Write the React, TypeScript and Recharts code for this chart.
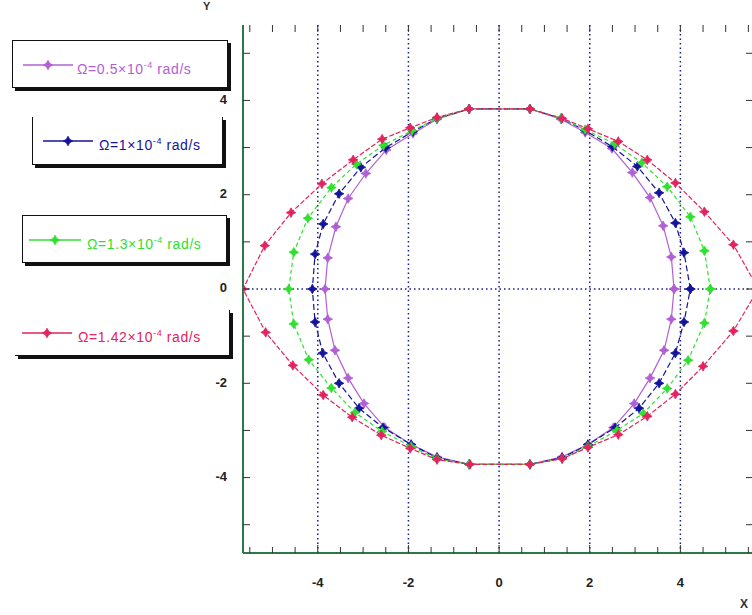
import React from "react";
import { ComposedChart, Scatter, XAxis, YAxis, ReferenceLine } from "recharts";

// plot frame (pixels) – used only for drawing ticks
const PLOT_LEFT = 243;
const PLOT_TOP = 25;
const PLOT_BOTTOM = 553;
const PLOT_RIGHT = 752;

const xTicks = [-5.5, -5, -4.5, -4, -3.5, -3, -2.5, -2, -1.5, -1, -0.5, 0, 0.5, 1, 1.5, 2, 2.5, 3, 3.5, 4, 4.5, 5, 5.5];
const xLabels = [-4, -2, 0, 2, 4];
const yTicks = [-5, -4, -3, -2, -1, 0, 1, 2, 3, 4, 5];
const yLabels = [-4, -2, 0, 2, 4];
const gridX = [-4, -2, 0, 2, 4];

// Ω = 0.5e-4 (purple)
const purplePts: [number, number][] = [
  [3.86, 0], [3.8, 0.68], [3.62, 1.34], [3.33, 1.94], [2.94, 2.47], [2.49, 2.98], [1.9, 3.32], [1.37, 3.6],
  [0.68, 3.82], [-0.66, 3.82], [-1.37, 3.6], [-1.9, 3.3], [-2.49, 2.95], [-2.94, 2.45], [-3.33, 1.92],
  [-3.6, 1.32], [-3.78, 0.66], [-3.84, 0], [-3.78, -0.64], [-3.62, -1.3], [-3.33, -1.89], [-2.98, -2.43],
  [-2.52, -2.94], [-1.94, -3.3], [-1.37, -3.56], [-0.66, -3.72], [0.68, -3.72], [1.39, -3.56], [1.96, -3.3],
  [2.52, -2.94], [2.98, -2.43], [3.33, -1.89], [3.64, -1.3], [3.8, -0.64], [3.86, 0],
];

// Ω = 1e-4 (blue)
const bluePts: [number, number][] = [
  [4.22, 0], [4.08, 0.77], [3.89, 1.4], [3.53, 2.04], [3.05, 2.6], [2.5, 3.02], [1.9, 3.36], [1.37, 3.62],
  [0.68, 3.82], [-0.66, 3.82], [-1.37, 3.62], [-1.9, 3.34], [-2.5, 3.0], [-3.05, 2.58], [-3.53, 2.02],
  [-3.88, 1.38], [-4.06, 0.74], [-4.12, 0], [-4.06, -0.7], [-3.89, -1.36], [-3.53, -2.0], [-3.09, -2.53],
  [-2.56, -2.94], [-1.94, -3.3], [-1.37, -3.58], [-0.66, -3.72], [0.68, -3.72], [1.39, -3.58], [1.96, -3.3],
  [2.56, -2.94], [3.09, -2.53], [3.53, -2.0], [3.89, -1.36], [4.08, -0.7], [4.22, 0],
];

// Ω = 1.3e-4 (green)
const greenPts: [number, number][] = [
  [4.66, 0], [4.53, 0.81], [4.22, 1.53], [3.71, 2.17], [3.15, 2.68], [2.55, 3.08], [1.9, 3.38], [1.37, 3.62],
  [0.68, 3.82], [-0.66, 3.82], [-1.37, 3.62], [-1.92, 3.36], [-2.55, 3.05], [-3.15, 2.65], [-3.7, 2.15],
  [-4.22, 1.5], [-4.53, 0.78], [-4.64, 0], [-4.53, -0.74], [-4.2, -1.5], [-3.7, -2.1], [-3.18, -2.62],
  [-2.58, -3.02], [-1.94, -3.34], [-1.37, -3.6], [-0.66, -3.72], [0.68, -3.72], [1.39, -3.6], [1.96, -3.34],
  [2.6, -3.0], [3.18, -2.64], [3.71, -2.11], [4.17, -1.51], [4.53, -0.72], [4.66, 0],
];

// Ω = 1.42e-4 (red)
const redPts: [number, number][] = [
  [5.72, 0], [5.17, 0.94], [4.53, 1.64], [3.89, 2.25], [3.27, 2.74], [2.63, 3.13], [1.96, 3.4], [1.39, 3.62],
  [0.68, 3.82], [-0.66, 3.82], [-1.37, 3.64], [-1.96, 3.42], [-2.58, 3.18], [-3.22, 2.74], [-3.91, 2.23],
  [-4.59, 1.62], [-5.17, 0.92], [-5.65, 0], [-5.15, -0.92], [-4.55, -1.62], [-3.88, -2.25], [-3.24, -2.72],
  [-2.6, -3.1], [-1.96, -3.38], [-1.37, -3.62], [-0.64, -3.72], [0.68, -3.72], [1.39, -3.6], [1.96, -3.36],
  [2.63, -3.09], [3.27, -2.7], [3.89, -2.23], [4.5, -1.64], [5.17, -0.89], [5.72, 0],
];

const toRows = (pts: [number, number][]) => pts.map(([x, y]) => ({ x, y }));

const series = [
  { key: "purple", label: "Ω=0.5×10", sup: "-4", color: "#b160d4", dash: undefined as string | undefined, pts: purplePts },
  { key: "blue", label: "Ω=1×10", sup: "-4", color: "#14149a", dash: "6 3", pts: bluePts },
  { key: "green", label: "Ω=1.3×10", sup: "-4", color: "#2fe02f", dash: "4 3", pts: greenPts },
  { key: "red", label: "Ω=1.42×10", sup: "-4", color: "#e2235e", dash: "5 2", pts: redPts },
];

// legend boxes, as laid out in the original figure
const legendBoxes = [
  { left: 12, top: 40, width: 216, height: 48, lineFrom: 22, lineTo: 72, textX: 76, borders: "all" },
  { left: 32, top: 117, width: 191, height: 48, lineFrom: 42, lineTo: 92, textX: 98, borders: "lrb" },
  { left: 22, top: 215, width: 205, height: 48, lineFrom: 28, lineTo: 80, textX: 86, borders: "all" },
  { left: 15, top: 310, width: 215, height: 46, lineFrom: 22, lineTo: 72, textX: 78, borders: "rb" },
];

const Star = (props: any) => {
  const { cx, cy, fill } = props;
  if (cx == null || cy == null) return null;
  const r = 4.8;
  const s = 1.7;
  const pts = [
    [cx, cy - r], [cx + s, cy - s], [cx + r, cy], [cx + s, cy + s],
    [cx, cy + r], [cx - s, cy + s], [cx - r, cy], [cx - s, cy - s],
  ]
    .map((p) => p.join(","))
    .join(" ");
  return <polygon points={pts} fill={fill} stroke={fill} strokeWidth={0.8} />;
};

const tickFont = { fontFamily: "Arial, 'Liberation Sans', sans-serif", fontSize: 13, fontWeight: 700 };

const XTick = (props: any) => {
  const { x, payload } = props;
  const v = payload.value;
  const labelled = xLabels.includes(v);
  return (
    <g>
      <line x1={x} x2={x} y1={PLOT_BOTTOM} y2={PLOT_BOTTOM - (labelled ? 8 : 6)} stroke="#333" />
      <line x1={x} x2={x} y1={PLOT_TOP} y2={PLOT_TOP + 7} stroke="#333" />
      {labelled && (
        <text x={x} y={PLOT_BOTTOM + 31} textAnchor="middle" dominantBaseline="middle" fill="#222" {...tickFont}>
          {v}
        </text>
      )}
    </g>
  );
};

const YTick = (props: any) => {
  const { y, payload } = props;
  const v = payload.value;
  const labelled = yLabels.includes(v);
  return (
    <g>
      <line x1={PLOT_LEFT} x2={PLOT_LEFT + 7} y1={y} y2={y} stroke="#333" />
      <line x1={PLOT_RIGHT - 6} x2={PLOT_RIGHT} y1={y} y2={y} stroke="#333" />
      {labelled && (
        <text x={PLOT_LEFT - 16} y={y} textAnchor="end" dominantBaseline="middle" fill="#222" {...tickFont}>
          {v}
        </text>
      )}
    </g>
  );
};

const LegendBox = ({ box, s }: { box: (typeof legendBoxes)[number]; s: (typeof series)[number] }) => {
  const b = "1.5px solid #111";
  const border: React.CSSProperties =
    box.borders === "all"
      ? { border: b }
      : box.borders === "lrb"
      ? { borderLeft: b, borderRight: b, borderBottom: b }
      : { borderRight: b, borderBottom: b };
  const midY = box.height / 2;
  return (
    <div
      style={{
        position: "absolute",
        left: box.left,
        top: box.top,
        width: box.width,
        height: box.height,
        background: "#fff",
        boxShadow: "3px 3px 0 #111",
        boxSizing: "border-box",
        ...border,
      }}
    >
      <svg width={box.width} height={box.height} style={{ position: "absolute", left: 0, top: 0 }}>
        <line
          x1={box.lineFrom - box.left}
          x2={box.lineTo - box.left}
          y1={midY}
          y2={midY}
          stroke={s.color}
          strokeWidth={1.5}
        />
        <Star cx={(box.lineFrom + box.lineTo) / 2 - box.left} cy={midY} fill={s.color} />
      </svg>
      <div
        style={{
          position: "absolute",
          left: box.textX - box.left,
          top: midY - 9,
          color: s.color,
          fontFamily: "Arial, 'Liberation Sans', sans-serif",
          fontSize: 14,
          letterSpacing: 0.6,
          whiteSpace: "nowrap",
          lineHeight: "18px",
        }}
      >
        {s.label}
        <sup style={{ fontSize: 9 }}>{s.sup}</sup> rad/s
      </div>
    </div>
  );
};

export default function App() {
  return (
    <div style={{ position: "absolute", left: 0, top: 0, width: 752, height: 615, background: "#fff", overflow: "hidden" }}>
      <ComposedChart width={752} height={615} margin={{ top: PLOT_TOP, right: 0, bottom: 2, left: 200 }}>
        <XAxis
          type="number"
          dataKey="x"
          domain={[-5.65, 5.58]}
          allowDataOverflow
          ticks={xTicks}
          interval={0}
          height={60}
          axisLine={{ stroke: "#2b7a48", strokeWidth: 2 }}
          tickLine={false}
          tick={<XTick />}
        />
        <YAxis
          type="number"
          dataKey="y"
          domain={[-5.6, 5.6]}
          allowDataOverflow
          ticks={yTicks}
          interval={0}
          width={43}
          axisLine={{ stroke: "#2b7a48", strokeWidth: 2 }}
          tickLine={false}
          tick={<YTick />}
        />
        {gridX.map((gx) => (
          <ReferenceLine key={gx} x={gx} stroke="#1c1c8c" strokeWidth={1.5} strokeDasharray="1.5 3" />
        ))}
        <ReferenceLine y={0} stroke="#1c1c8c" strokeWidth={1.5} strokeDasharray="1.5 3" />
        {series.map((s) => (
          <Scatter
            key={s.key}
            name={s.key}
            data={toRows(s.pts)}
            fill={s.color}
            line={{ stroke: s.color, strokeWidth: 1.2, strokeDasharray: s.dash }}
            lineType="joint"
            shape={<Star />}
            isAnimationActive={false}
          />
        ))}
      </ComposedChart>
      {series.map((s, i) => (
        <LegendBox key={s.key} box={legendBoxes[i]} s={s} />
      ))}
      <div style={{ position: "absolute", left: 203, top: 0, fontFamily: "Arial, sans-serif", fontSize: 11, fontWeight: 700, color: "#333" }}>
        Y
      </div>
      <div style={{ position: "absolute", left: 740, top: 597, fontFamily: "Arial, sans-serif", fontSize: 12, fontWeight: 700, color: "#333" }}>
        X
      </div>
    </div>
  );
}
